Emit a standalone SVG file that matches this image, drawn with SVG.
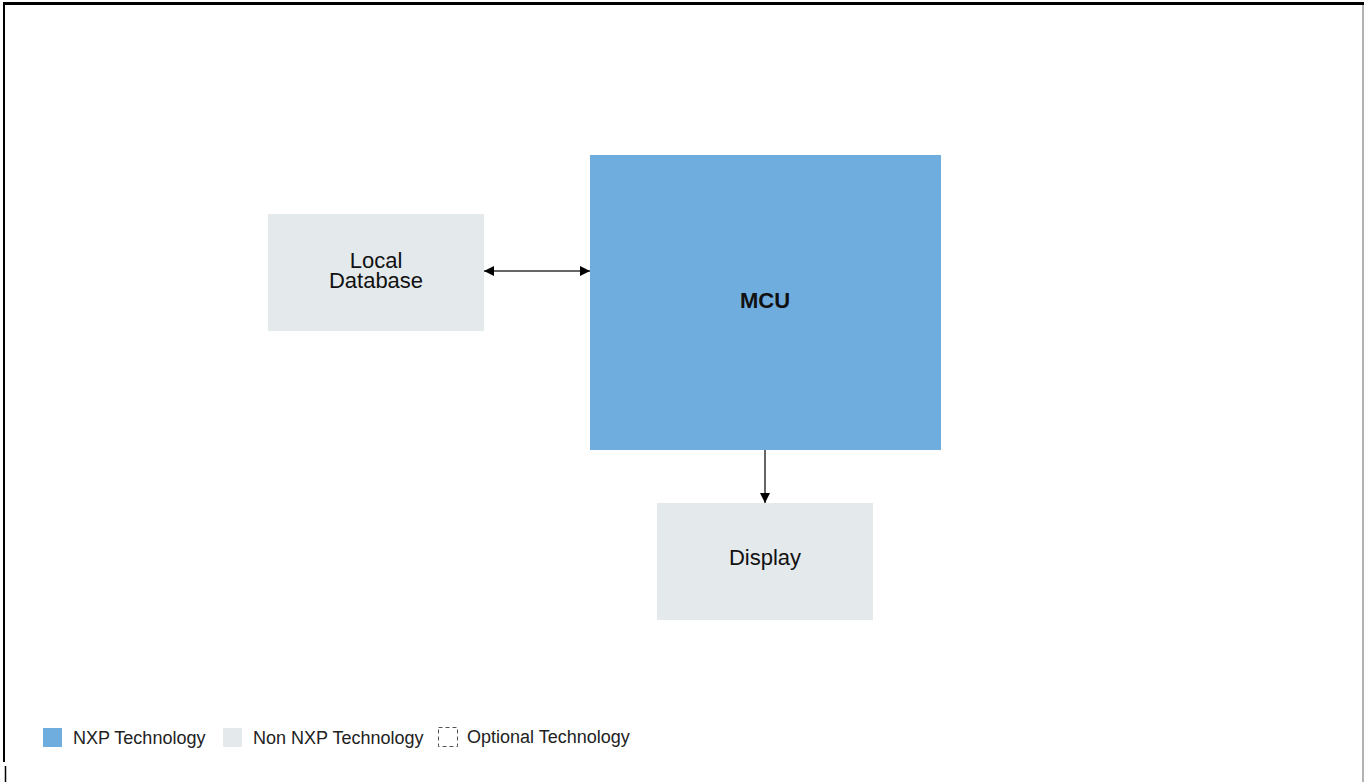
<svg xmlns="http://www.w3.org/2000/svg" width="1364" height="782" viewBox="0 0 1364 782">
<style>
.nxp{fill:#6FADDE}
.non{fill:#E4E9EC}
.lbl{font-family:"Liberation Sans",Arial,sans-serif;font-size:22px;fill:#111;text-anchor:middle}
.leg{font-family:"Liberation Sans",Arial,sans-serif;font-size:18px;fill:#222}
.conn{stroke:#333;stroke-width:1.5;fill:none}
</style>
<defs>
<marker id="ah" viewBox="0 0 10 10" refX="10" refY="5" markerWidth="10" markerHeight="10" markerUnits="userSpaceOnUse" orient="auto-start-reverse">
<path d="M0,0 L10,5 L0,10 Z" fill="#000"/>
</marker>
</defs>
<rect x="0" y="0" width="1364" height="782" fill="#fff"/>
<g id="frame">
<line x1="3" y1="3.5" x2="1364" y2="3.5" stroke="#000" stroke-width="3"/>
<line x1="4" y1="2" x2="4" y2="762" stroke="#000" stroke-width="2"/>
<line x1="5.5" y1="766" x2="5.5" y2="782" stroke="#000" stroke-width="1.5"/>
<line x1="1363" y1="5" x2="1363" y2="782" stroke="#999" stroke-width="1.5"/>
</g>
<g id="connectors">
<line class="conn" x1="484" y1="271" x2="590" y2="271" marker-start="url(#ah)" marker-end="url(#ah)"/>
<line class="conn" x1="765" y1="450" x2="765" y2="503" marker-end="url(#ah)"/>
</g>
<g id="local-database">
<rect class="non" x="268" y="214" width="216" height="117"/>
<text class="lbl" x="376" y="268">Local</text>
<text class="lbl" x="376" y="288">Database</text>
</g>
<g id="mcu">
<rect class="nxp" x="590" y="155" width="351" height="295"/>
<text class="lbl" x="765" y="308" font-weight="bold">MCU</text>
</g>
<g id="display">
<rect class="non" x="657" y="503" width="216" height="117"/>
<text class="lbl" x="765" y="565">Display</text>
</g>
<g id="legend">
<rect class="nxp" x="43" y="728" width="19" height="19"/>
<text class="leg" x="73" y="744">NXP Technology</text>
<rect class="non" x="223" y="728" width="19" height="19"/>
<text class="leg" x="253" y="744">Non NXP Technology</text>
<rect x="438.5" y="727.5" width="19" height="19" fill="none" stroke="#555" stroke-width="1" stroke-dasharray="4,3"/>
<text class="leg" x="467" y="743">Optional Technology</text>
</g>
</svg>
